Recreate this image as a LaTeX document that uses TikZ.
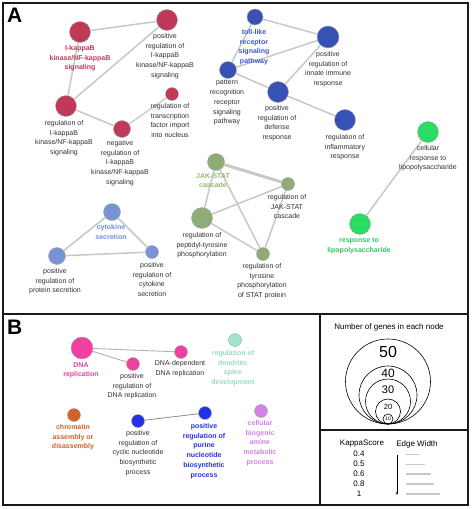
\documentclass[tikz,border=0pt]{standalone}
\usepackage{fontspec}
\setmainfont{Liberation Sans}
\usetikzlibrary{arrows.meta}
\definecolor{redN}{RGB}{192,57,88}
\definecolor{redT}{RGB}{200,55,90}
\definecolor{blueN}{RGB}{55,82,180}
\definecolor{blueT}{RGB}{60,85,200}
\definecolor{oliveN}{RGB}{142,172,118}
\definecolor{oliveT}{RGB}{150,185,110}
\definecolor{cytoN}{RGB}{122,146,214}
\definecolor{cytoT}{RGB}{110,140,220}
\definecolor{lpsN}{RGB}{40,220,100}
\definecolor{lpsT}{RGB}{40,205,100}
\definecolor{pinkN}{RGB}{240,64,160}
\definecolor{tealN}{RGB}{160,228,208}
\definecolor{tealT}{RGB}{150,220,200}
\definecolor{orangeN}{RGB}{208,98,42}
\definecolor{dblueN}{RGB}{35,50,230}
\definecolor{violetN}{RGB}{214,128,232}
\definecolor{edgeC}{RGB}{200,200,200}
\definecolor{txtC}{RGB}{50,50,50}
\newcommand{\lblfont}{\fontsize{7}{9.8}\selectfont}
\tikzset{
  gnode/.style={circle, inner sep=0pt, draw=black!35, line width=0.4pt},
  lbl/.style={font=\lblfont, align=center, inner sep=0pt, anchor=north, text=txtC},
  blbl/.style={font=\lblfont\bfseries, align=center, inner sep=0pt, anchor=north},
  edge/.style={draw=edgeC, line width=1.5pt},
  frame/.style={draw=black!90, line width=1.8pt},
  panel/.style={font=\fontsize{21}{21}\selectfont\bfseries, inner sep=0pt, anchor=north west}
}
\begin{document}
\begin{tikzpicture}[x=1pt,y=-1pt]
\useasboundingbox (0,0) rectangle (472,509);
\fill[white] (0,0) rectangle (472,509);
% frames
\draw[frame] (3,3) rectangle (468,314);
\draw[frame] (3,314) rectangle (468,505);
\draw[frame] (320,314) -- (320,505);
\draw[frame] (320,430) -- (468,430);
\node[panel] (pA) at (7,8) {A};
\node[panel] (pB) at (7,320) {B};

% ---------- red cluster
\node[gnode, fill=redN, minimum size=21] (n1) at (80,32) {};
\node[gnode, fill=redN, minimum size=21] (n2) at (167,20) {};
\node[gnode, fill=redN, minimum size=21] (n3) at (66,106) {};
\node[gnode, fill=redN, minimum size=17] (n4) at (122,129) {};
\node[gnode, fill=redN, minimum size=13] (n5) at (172,94) {};
% ---------- blue cluster
\node[gnode, fill=blueN, minimum size=16] (b1) at (255,17) {};
\node[gnode, fill=blueN, minimum size=22] (b2) at (328,37) {};
\node[gnode, fill=blueN, minimum size=17] (b3) at (228,70) {};
\node[gnode, fill=blueN, minimum size=21] (b4) at (278,92) {};
\node[gnode, fill=blueN, minimum size=21] (b5) at (345,120) {};
% ---------- LPS
\node[gnode, fill=lpsN, minimum size=21] (g1) at (428,132) {};
\node[gnode, fill=lpsN, minimum size=21] (g2) at (360,224) {};
% ---------- JAK
\node[gnode, fill=oliveN, minimum size=17] (j1) at (216,162) {};
\node[gnode, fill=oliveN, minimum size=13] (j2) at (288,184) {};
\node[gnode, fill=oliveN, minimum size=21] (j3) at (202,218) {};
\node[gnode, fill=oliveN, minimum size=13] (j4) at (263,254) {};
% ---------- cytokine
\node[gnode, fill=cytoN, minimum size=17] (c1) at (112,212) {};
\node[gnode, fill=cytoN, minimum size=17] (c2) at (57,256) {};
\node[gnode, fill=cytoN, minimum size=13] (c3) at (152,252) {};
% ---------- panel B
\node[gnode, fill=pinkN, minimum size=22] (p1) at (82,348) {};
\node[gnode, fill=pinkN, minimum size=13] (p2) at (133,364) {};
\node[gnode, fill=pinkN, minimum size=13] (p3) at (181,352) {};
\node[gnode, fill=tealN, minimum size=13] (t1) at (235,340) {};
\node[gnode, fill=orangeN, minimum size=13] (o1) at (74,415) {};
\node[gnode, fill=dblueN, minimum size=13] (d1) at (138,421) {};
\node[gnode, fill=dblueN, minimum size=13] (d2) at (205,413) {};
\node[gnode, fill=violetN, minimum size=13] (v1) at (261,411) {};

% ---------- edges
\draw[edge] (n1) -- (n2);
\draw[edge] (n1) -- (n3);
\draw[edge] (n3) -- (n2);
\draw[edge] (n3) -- (n4);
\draw[edge, line width=1.2pt] (n4) -- (n5);
\draw[edge] (b1) -- (b2);
\draw[edge] (b1) -- (b3);
\draw[edge] (b3) -- (b2);
\draw[edge] (b3) -- (b4);
\draw[edge] (b4) -- (b2);
\draw[edge] (b4) -- (b5);
\draw[edge] (g1) -- (g2);
\draw[edge, line width=3pt] (j1) -- (j2);
\draw[edge] (j1) -- (j3);
\draw[edge] (j1) -- (j4);
\draw[edge] (j3) -- (j2);
\draw[edge] (j3) -- (j4);
\draw[edge] (j2) -- (j4);
\draw[edge] (c1) -- (c2);
\draw[edge] (c1) -- (c3);
\draw[edge] (c2) -- (c3);
\draw[edge, line width=0.9pt, draw=black!30] (p1) -- (p2);
\draw[edge, line width=0.9pt, draw=black!30] (p1) -- (p3);
\draw[edge, line width=0.8pt, draw=black!45] (d1) -- (d2);

% ---------- labels panel A
\node[blbl, text=redT] (ln1) at (80,45) {I-kappaB\\kinase/NF-kappaB\\signaling};
\node[lbl] (ln2) at (165,33) {positive\\regulation of\\I-kappaB\\kinase/NF-kappaB\\signaling};
\node[lbl] (ln3) at (64,120) {regulation of\\I-kappaB\\kinase/NF-kappaB\\signaling};
\node[lbl] (ln4) at (120,140) {negative\\regulation of\\I-kappaB\\kinase/NF-kappaB\\signaling};
\node[lbl] (ln5) at (170,103) {regulation of\\transcription\\factor import\\into nucleus};
\node[blbl, text=blueT] (lb1) at (254,29) {toll-like\\receptor\\signaling\\pathway};
\node[lbl] (lb2) at (328,51) {positive\\regulation of\\innate immune\\response};
\node[lbl] (lb3) at (227,80) {pattern\\recognition\\receptor\\signaling\\pathway};
\node[lbl] (lb4) at (277,105) {positive\\regulation of\\defense\\response};
\node[lbl] (lb5) at (345,134) {regulation of\\inflammatory\\response};
\node[lbl] (lg1) at (428,145) {cellular\\response to\\lipopolysaccharide};
\node[blbl, text=lpsT] (lg2) at (359,238) {response to\\lipopolysaccharide};
\node[blbl, text=oliveT] (lj1) at (213,173) {JAK-STAT\\cascade};
\node[lbl] (lj2) at (287,194) {regulation of\\JAK-STAT\\cascade};
\node[lbl] (lj3) at (202,232) {regulation of\\peptidyl-tyrosine\\phosphorylation};
\node[lbl] (lj4) at (262,263) {regulation of\\tyrosine\\phosphorylation\\of STAT protein};
\node[blbl, text=cytoT] (lc1) at (111,224) {cytokine\\secretion};
\node[lbl] (lc2) at (55,268) {positive\\regulation of\\protein secretion};
\node[lbl] (lc3) at (152,262) {positive\\regulation of\\cytokine\\secretion};
% ---------- labels panel B
\node[blbl, text=pinkN] (lp1) at (81,362) {DNA\\replication};
\node[lbl] (lp2) at (132,373) {positive\\regulation of\\DNA replication};
\node[lbl] (lp3) at (180,360) {DNA-dependent\\DNA replication};
\node[blbl, text=tealT] (lt1) at (233,350) {regulation of\\dendritic\\spine\\development};
\node[blbl, text=orangeN] (lo1) at (73,424) {chromatin\\assembly or\\disassembly};
\node[lbl] (ld1) at (138,430) {positive\\regulation of\\cyclic nucleotide\\biosynthetic\\process};
\node[blbl, text=dblueN] (ld2) at (204,423) {positive\\regulation of\\purine\\nucleotide\\biosynthetic\\process};
\node[blbl, text=violetN] (lv1) at (260,420) {cellular\\biogenic\\amine\\metabolic\\process};

% ---------- legend: node size
\node[font=\fontsize{8}{9}\selectfont, inner sep=0pt] (lgt) at (389,327) {Number of genes in each node};
\coordinate (tp) at (388,424);
\draw[line width=0.6pt] (388,381.5) circle[radius=42.5];
\draw[line width=0.6pt] (388,395) circle[radius=29];
\draw[line width=0.6pt] (388,401.5) circle[radius=22.5];
\draw[line width=0.6pt] (388,411.5) circle[radius=12.5];
\draw[line width=0.6pt] (388,419) circle[radius=5];
\node[font=\fontsize{16}{16}\selectfont, inner sep=0pt] (s50) at (388,352) {50};
\node[font=\fontsize{12}{12}\selectfont, inner sep=0pt] (s40) at (388,373) {40};
\node[font=\fontsize{11}{11}\selectfont, inner sep=0pt] (s30) at (388,390) {30};
\node[font=\fontsize{7.5}{8}\selectfont, inner sep=0pt] (s20) at (388,407) {20};
\node[font=\fontsize{5}{5}\selectfont, inner sep=0pt] (s10) at (388,419) {10};

% ---------- legend: kappa
\node[font=\fontsize{8}{9}\selectfont, inner sep=0pt] (kh) at (362,444) {KappaScore};
\node[font=\fontsize{8}{9}\selectfont, inner sep=0pt] (eh) at (417,444) {Edge Width};
\node[font=\fontsize{8}{9}\selectfont, inner sep=0pt] (k1) at (359,454) {0.4};
\node[font=\fontsize{8}{9}\selectfont, inner sep=0pt] (k2) at (359,464) {0.5};
\node[font=\fontsize{8}{9}\selectfont, inner sep=0pt] (k3) at (359,474) {0.6};
\node[font=\fontsize{8}{9}\selectfont, inner sep=0pt] (k4) at (359,484) {0.8};
\node[font=\fontsize{8}{9}\selectfont, inner sep=0pt] (k5) at (359,494) {1};
\coordinate (as) at (397,455);
\coordinate (ae) at (397,495);
\draw[line width=0.6pt, -{Stealth[length=3pt,width=2.5pt]}] (as) -- (ae);
\coordinate (w1a) at (406,454); \coordinate (w1b) at (420,454);
\coordinate (w2a) at (406,464); \coordinate (w2b) at (425,464);
\coordinate (w3a) at (406,474); \coordinate (w3b) at (431,474);
\coordinate (w4a) at (406,484); \coordinate (w4b) at (434,484);
\coordinate (w5a) at (406,494); \coordinate (w5b) at (440,494);
\draw[draw=edgeC, line width=0.6pt] (w1a) -- (w1b);
\draw[draw=edgeC, line width=0.9pt] (w2a) -- (w2b);
\draw[draw=edgeC, line width=1.2pt] (w3a) -- (w3b);
\draw[draw=edgeC, line width=1.6pt] (w4a) -- (w4b);
\draw[draw=edgeC, line width=2.2pt] (w5a) -- (w5b);
\end{tikzpicture}
\end{document}
